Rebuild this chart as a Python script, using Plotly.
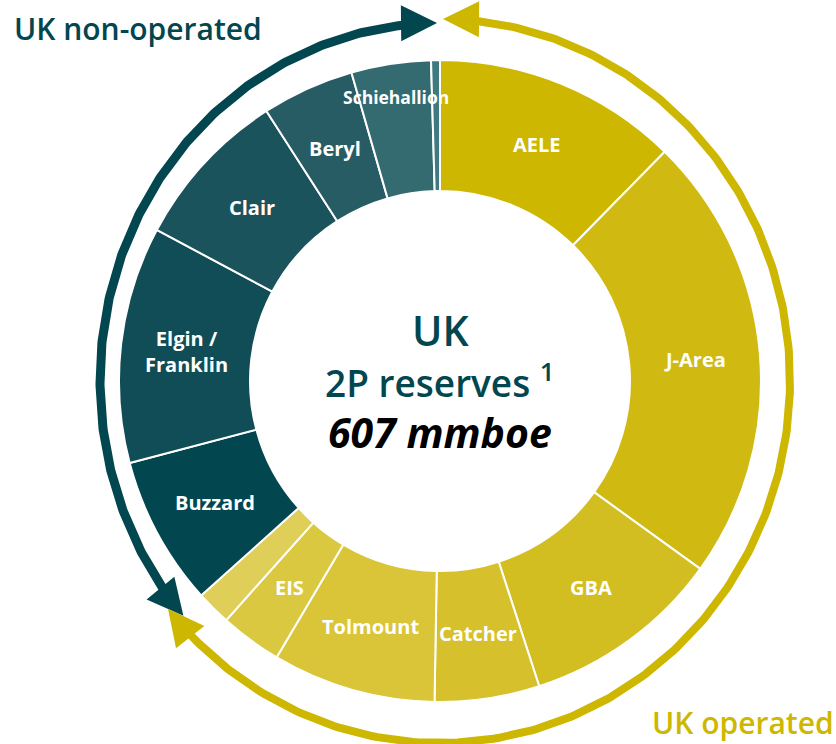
import numpy as np
import plotly.graph_objects as go

# ---- data (mmboe) ----
fields = ["AELE", "J-Area", "GBA", "Catcher", "Tolmount", "EIS", "Other operated",
          "Buzzard", "Elgin / Franklin", "Clair", "Beryl", "Schiehallion", "Other non-operated"]
labels_shown = ["AELE", "J-Area", "GBA", "Catcher", "Tolmount", "EIS", "",
                "Buzzard", "Elgin /<br>Franklin", "Clair", "Beryl", "Schiehallion", ""]
reserves = [74.9, 137.2, 61.0, 32.0, 49.9, 18.9, 10.6,
            45.7, 72.3, 49.2, 28.2, 24.3, 2.7]
colors = ["#CDB700", "#D0BA12", "#D3BE22", "#D6C12D", "#D9C537", "#DBC841", "#DFCF58",
          "#02464F", "#104D56", "#1B535C", "#275C64", "#336B71", "#3F7A80"]

W, H = 836, 744
TEAL = "#02464F"
GOLD = "#CDB700"
FONT = "Open Sans"

cx, cy, R = 440, 381, 321
R_IN = 190

fig = go.Figure()
fig.add_trace(go.Pie(
    labels=fields, values=reserves, textinfo="none",
    sort=False, direction="clockwise", rotation=0, hole=R_IN / R,
    marker=dict(colors=colors, line=dict(color="white", width=2)),
    domain=dict(x=[(cx - R) / W, (cx + R) / W], y=[(H - cy - R) / H, (H - cy + R) / H]),
    showlegend=False, hoverinfo="label+value",
))

# ---- curved arrows (decoration, pixel coordinates) ----
def ell(ecx, ecy, rx, ry, th):
    return ecx + rx * np.sin(th), ecy - ry * np.cos(th)

shapes = []
def arrow(ecx, ecy, rx, ry, t0, t1, color, L=36, HW=18, lw=8):
    t0, t1 = np.radians(t0), np.radians(t1)
    ends = []
    for tt, s in ((t0, -1), (t1, 1)):
        px, py = ell(ecx, ecy, rx, ry, tt)
        dx, dy = rx * np.cos(tt) * s, ry * np.sin(tt) * s
        n = np.hypot(dx, dy)
        tx, ty = dx / n, dy / n
        bx, by = px - L * tx, py - L * ty
        nx, ny = -ty, tx
        shapes.append(dict(type="path", xref="x", yref="y", fillcolor=color, line=dict(width=0),
                           path=f"M{px},{py} L{bx + HW * nx},{by + HW * ny} L{bx - HW * nx},{by - HW * ny} Z"))
        ends.append(tt - s * (L - 2) / (np.hypot(rx * np.cos(tt), ry * np.sin(tt))))
    th = np.linspace(ends[0], ends[1], 300)
    x, y = ell(ecx, ecy, rx, ry, th)
    fig.add_trace(go.Scatter(x=x, y=y, mode="lines", line=dict(color=color, width=lw),
                             hoverinfo="skip", showlegend=False))

arrow(440, 381, 340, 358, -131, -0.5, TEAL, lw=9)
arrow(440, 381, 350, 362, 0.5, 231, GOLD)
fig.update_layout(shapes=shapes)

# ---- slice labels at the middle of each slice (from the cumulative values) ----
total = sum(reserves)
ann = []
cum = 0.0
for name, lab, v in zip(fields, labels_shown, reserves):
    mid = np.radians((cum + v / 2) / total * 360)
    cum += v
    if not lab:
        continue
    r = 287 if name == "Schiehallion" else (R + R_IN) / 2
    size = 17.5 if name == "Schiehallion" else 20
    ann.append(dict(x=cx + r * np.sin(mid), y=cy - r * np.cos(mid), text=lab,
                    font=dict(size=size, color="white", weight="bold")))

ann += [
    dict(x=12, y=28, text="UK non-operated", xanchor="left",
         font=dict(size=30, color=TEAL, weight=600)),
    dict(x=836, y=722, text="UK operated", xanchor="right",
         font=dict(size=30, color=GOLD, weight=600)),
    dict(x=cx, y=330, text="UK", font=dict(size=41, color=TEAL, weight=600)),
    dict(x=cx, y=380, text="2P reserves <sup>1</sup>", font=dict(size=37, color=TEAL, weight=600)),
    dict(x=cx, y=432, text="<i>607 mmboe</i>", font=dict(size=41, color="black", weight="bold")),
]
for a in ann:
    a.update(xref="x", yref="y", showarrow=False, yanchor="middle")
    a.setdefault("xanchor", "center")
    a["font"]["family"] = FONT

fig.update_layout(
    width=W, height=H, margin=dict(l=0, r=0, t=0, b=0),
    paper_bgcolor="white", plot_bgcolor="rgba(0,0,0,0)",
    xaxis=dict(range=[0, W], visible=False, fixedrange=True, domain=[0, 1]),
    yaxis=dict(range=[H, 0], visible=False, fixedrange=True, domain=[0, 1]),
    annotations=ann,
)
fig.write_html("out.html", config={"displayModeBar": False},
               post_script="document.body.style.margin='0';")
